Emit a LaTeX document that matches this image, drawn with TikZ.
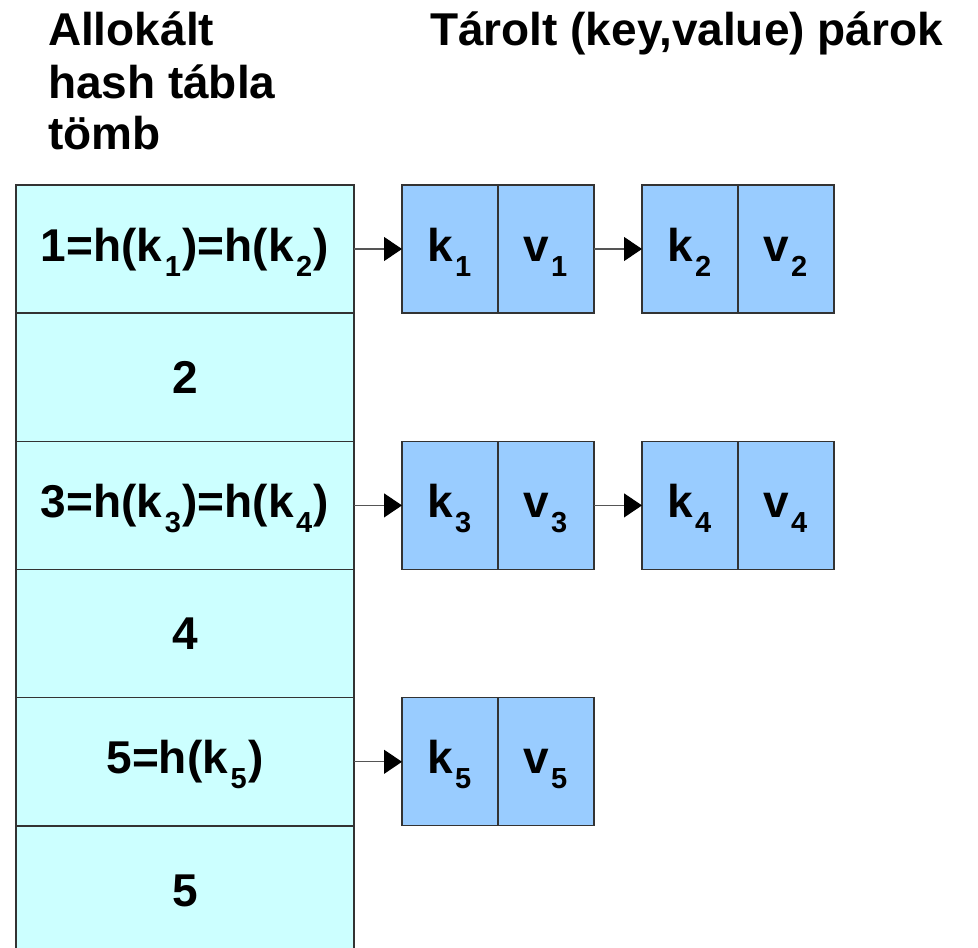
\documentclass[tikz,border=0pt]{standalone}
\usepackage{fontspec}
\setmainfont{Liberation Sans}
\usetikzlibrary{arrows.meta}

\definecolor{tablecol}{HTML}{CCFFFF}
\definecolor{keycol}{HTML}{99CCFF}
\definecolor{valcol}{HTML}{99CCFF}
\definecolor{edgecol}{HTML}{333333}
\definecolor{linkcol}{HTML}{555555}

% lowered index digit, as in k_1
\newcommand\subidx[1]{\kern2.5pt\raisebox{-15pt}{\fontsize{29}{29}\selectfont #1}\kern1.5pt}

\tikzset{
  every node/.style={font=\fontsize{46}{51.5}\selectfont\bfseries, inner sep=0pt, outer sep=0pt},
  slot/.style={draw=edgecol, line width=1.3pt, fill=tablecol,
               minimum width=338pt, minimum height=128.2pt},
  keycell/.style={draw=edgecol, line width=1.3pt, fill=keycol,
                  minimum width=96pt, minimum height=128pt},
  valcell/.style={draw=edgecol, line width=1.3pt, fill=valcol,
                  minimum width=96pt, minimum height=128pt},
  celltext/.style={anchor=base},
  link/.style={draw=linkcol, line width=1.2pt,
               -{Triangle[length=18pt, width=24pt, color=black]}}
}

\begin{document}
\begin{tikzpicture}[x=1pt, y=-1pt]
  \clip (0,0) rectangle (978,948);

  % headings
  \node[anchor=base west] (h1) at (48,45)    {Allokált};
  \node[anchor=base west] (h2) at (48,98)    {hash tábla};
  \node[anchor=base west] (h3) at (48,149)   {tömb};
  \node[anchor=base west] (h4) at (430,45)   {Tárolt (key,value) párok};

  % hash table slots
  \foreach \i/\y in {1/249, 2/377.2, 3/505.4, 4/633.6, 5/761.8, 6/890}
    \node[slot] (r\i) at (185,\y) {};

  \node[celltext] (l1) at ([yshift=-12pt]r1.center) {1=h(k\subidx{1})=h(k\subidx{2})};
  \node[celltext] (l2) at ([yshift=-16pt]r2.center) {2};
  \node[celltext] (l3) at ([yshift=-12pt]r3.center) {3=h(k\subidx{3})=h(k\subidx{4})};
  \node[celltext] (l4) at ([yshift=-16pt]r4.center) {4};
  \node[celltext] (l5) at ([yshift=-12pt]r5.center) {5=h(k\subidx{5})};
  \node[celltext] (l6) at ([yshift=-16pt]r6.center) {5};

  % stored (key,value) pairs
  \foreach \n/\x/\y in {1/450/249, 2/690/249, 3/450/505.4, 4/690/505.4, 5/450/761.8} {
    \node[keycell] (k\n) at (\x,\y) {};
    \node[valcell] (v\n) at (\x+96,\y) {};
    \node[celltext] (kt\n) at ([yshift=-12pt]k\n.center) {k\subidx{\n}};
    \node[celltext] (vt\n) at ([yshift=-12pt]v\n.center) {v\subidx{\n}};
  }

  % chain links
  \draw[link] (r1.east) -- (k1.west);
  \draw[link] (v1.east) -- (k2.west);
  \draw[link] (r3.east) -- (k3.west);
  \draw[link] (v3.east) -- (k4.west);
  \draw[link] (r5.east) -- (k5.west);
\end{tikzpicture}
\end{document}
